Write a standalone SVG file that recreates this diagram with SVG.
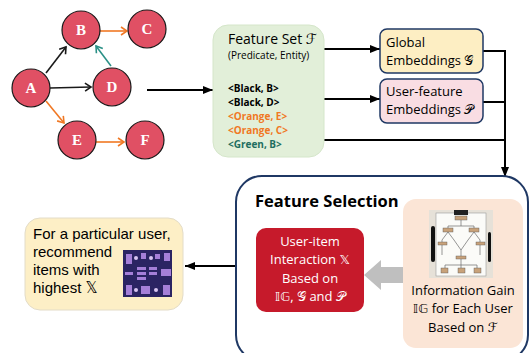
<svg xmlns="http://www.w3.org/2000/svg" width="531" height="353" viewBox="0 0 531 353">
<style>
.node{fill:#e05064;stroke:#1a1a1a;stroke-width:1.2}
.nl{font-family:"Liberation Serif",serif;font-weight:bold;font-size:15px;fill:#fff;text-anchor:middle}
.e{fill:none;stroke-width:1.6}
.flow{fill:none;stroke:#000;stroke-width:2}
.t{font-family:"Open Sans","Noto Sans",sans-serif;fill:#000}
.m{font-family:"DejaVu Sans","Noto Sans",serif}
</style>
<defs>
<marker id="ob" markerUnits="userSpaceOnUse" markerWidth="10" markerHeight="10" refX="7" refY="5" orient="auto"><path d="M1,1 L7,5 L1,9" fill="none" stroke="#1a1a1a" stroke-width="1.6"/></marker>
<marker id="oo" markerUnits="userSpaceOnUse" markerWidth="10" markerHeight="10" refX="7" refY="5" orient="auto"><path d="M1,1 L7,5 L1,9" fill="none" stroke="#f07824" stroke-width="1.6"/></marker>
<marker id="ot" markerUnits="userSpaceOnUse" markerWidth="10" markerHeight="10" refX="7" refY="5" orient="auto"><path d="M1,1 L7,5 L1,9" fill="none" stroke="#2a9086" stroke-width="1.6"/></marker>
<marker id="ar" markerUnits="userSpaceOnUse" markerWidth="10" markerHeight="8" refX="10" refY="4" orient="auto"><path d="M0,0 L10,4 L0,8 z" fill="#000"/></marker>
</defs>

<g id="connectors">
<line class="e" x1="46" y1="73" x2="66" y2="47" stroke="#1a1a1a" marker-end="url(#ob)"/>
<line class="e" x1="50" y1="88" x2="91" y2="87" stroke="#1a1a1a" marker-end="url(#ob)"/>
<line class="e" x1="46" y1="101" x2="64" y2="123" stroke="#f07824" marker-end="url(#oo)"/>
<line class="e" x1="111" y1="66" x2="96" y2="46" stroke="#2a9086" marker-end="url(#ot)"/>
<line class="e" x1="100" y1="31" x2="127" y2="31" stroke="#f07824" marker-end="url(#oo)"/>
<line class="e" x1="96" y1="142" x2="124" y2="142" stroke="#f07824" marker-end="url(#oo)"/>
<line class="flow" x1="147" y1="90" x2="213" y2="90" marker-end="url(#ar)"/>
<line class="flow" x1="324" y1="49" x2="380" y2="49" marker-end="url(#ar)"/>
<line class="flow" x1="324" y1="99" x2="380" y2="99" marker-end="url(#ar)"/>
<polyline class="flow" points="324,140 505,140"/>
<polyline class="flow" points="483,51 505,51"/>
<polyline class="flow" points="483,102 505,102"/>
<line class="flow" x1="505" y1="50" x2="505" y2="177" marker-end="url(#ar)"/>
<line class="flow" x1="236" y1="266" x2="185" y2="266" marker-end="url(#ar)"/>
</g>

<g id="node-B"><circle class="node" cx="81" cy="30" r="19"/><text class="nl" x="81" y="35">B</text></g>
<g id="node-C"><circle class="node" cx="147" cy="29" r="19"/><text class="nl" x="147" y="34">C</text></g>
<g id="node-A"><circle class="node" cx="31" cy="88" r="19"/><text class="nl" x="31" y="93">A</text></g>
<g id="node-D"><circle class="node" cx="112" cy="87" r="19"/><text class="nl" x="112" y="92">D</text></g>
<g id="node-E"><circle class="node" cx="77" cy="140" r="19"/><text class="nl" x="77" y="145">E</text></g>
<g id="node-F"><circle class="node" cx="145" cy="140" r="19"/><text class="nl" x="145" y="145">F</text></g>

<g id="feature-set">
<rect x="213" y="25" width="111" height="132" rx="15" fill="#e2efd9" stroke="#d5e6ca" stroke-width="1"/>
<text class="t" x="228" y="44" font-size="14">Feature Set <tspan class="m" font-style="italic">ℱ</tspan></text>
<text class="t" x="228" y="59" font-size="10">(Predicate, Entity)</text>
<text class="t" x="228" y="92" font-size="10" font-weight="bold">&lt;Black, B&gt;</text>
<text class="t" x="228" y="106" font-size="10" font-weight="bold">&lt;Black, D&gt;</text>
<text class="t" x="228" y="120" font-size="10" font-weight="bold" style="fill:#f07824">&lt;Orange, E&gt;</text>
<text class="t" x="228" y="134" font-size="10" font-weight="bold" style="fill:#f07824">&lt;Orange, C&gt;</text>
<text class="t" x="228" y="148" font-size="10" font-weight="bold" style="fill:#1e6e60">&lt;Green, B&gt;</text>
</g>

<g id="global-emb">
<rect x="380" y="29" width="103" height="44" rx="7" fill="#fdeec3" stroke="#1f3864" stroke-width="1.5"/>
<text class="t" x="386" y="47" font-size="13">Global</text>
<text class="t" x="386" y="65" font-size="13">Embeddings <tspan class="m">𝒢</tspan></text>
</g>

<g id="user-emb">
<rect x="380" y="79" width="103" height="44" rx="7" fill="#f9dde3" stroke="#1f3864" stroke-width="1.5"/>
<text class="t" x="386" y="96" font-size="13">User-feature</text>
<text class="t" x="386" y="114" font-size="13">Embeddings <tspan class="m">𝒫</tspan></text>
</g>

<g id="feature-selection">
<rect x="236" y="176" width="292" height="185" rx="26" fill="#fff" stroke="#1f3864" stroke-width="2"/>
<text class="t" x="255" y="207" font-size="16.5" font-weight="bold">Feature Selection</text>
<polygon points="364,275 381,260 381,267 405,267 405,283 381,283 381,290" fill="#bfbfbf"/>
</g>

<g id="user-item">
<rect x="256" y="228" width="108" height="84" rx="10" fill="#c61a2b"/>
<g class="t" font-size="13" text-anchor="middle" style="fill:#fff">
<text x="310" y="246">User-item</text>
<text x="310" y="264">Interaction <tspan class="m">𝕏</tspan></text>
<text x="310" y="283">Based on</text>
<text x="310" y="301"><tspan class="m">𝕀𝔾</tspan>, <tspan class="m">𝒢</tspan> and <tspan class="m">𝒫</tspan></text>
</g>
</g>

<g id="info-gain">
<rect x="403" y="199" width="120" height="149" rx="13" fill="#fbe5d6"/>
<rect x="429" y="210" width="64" height="68" fill="#e6e1d8"/>
<rect x="436" y="213" width="50" height="63" fill="#fbfbf8" stroke="#9a9a9a" stroke-width="0.6"/>
<rect x="454" y="210" width="14" height="5" fill="#222"/>
<g stroke="#6a6a6a" stroke-width="0.7" fill="none">
<path d="M461,218 V226 M448,226 H474 M448,226 V232 M474,226 V232 M448,232 L442,240 M448,232 L454,240 M474,232 L468,240 M474,232 L480,240 M442,240 V255 M480,240 V255 M454,240 L461,250 L468,240 M461,250 V258 M445,265 H477 M445,265 V270 M461,258 V270 M477,265 V270"/>
</g>
<g fill="#c8a27a" stroke="#555" stroke-width="0.4">
<rect x="455" y="216" width="12" height="4"/><rect x="443" y="228" width="10" height="4"/><rect x="469" y="228" width="10" height="4"/>
<rect x="438" y="242" width="9" height="3"/><rect x="476" y="242" width="9" height="3"/><rect x="456" y="256" width="10" height="3"/>
<rect x="441" y="268" width="7" height="5"/><rect x="458" y="268" width="7" height="5"/><rect x="474" y="268" width="7" height="5"/>
</g>
<rect x="431" y="226" width="4" height="36" rx="2" fill="#111"/>
<rect x="488" y="232" width="3" height="30" rx="1.5" fill="#111"/>
<g class="t" font-size="13" text-anchor="middle">
<text x="463" y="295">Information Gain</text>
<text x="463" y="313"><tspan class="m">𝕀𝔾</tspan> for Each User</text>
<text x="463" y="332">Based on <tspan class="m" font-style="italic">ℱ</tspan></text>
</g>
</g>

<g id="recommend">
<rect x="25" y="218" width="158" height="92" rx="15" fill="#fdefc6" stroke="#e3dcc8" stroke-width="1"/>
<g font-family="Liberation Sans, Arial, sans-serif" font-size="15" fill="#000">
<text x="33" y="239">For a particular user,</text>
<text x="33" y="257">recommend</text>
<text x="33" y="275">items with</text>
<text x="33" y="293">highest <tspan class="m">𝕏</tspan></text>
</g>
<rect x="123" y="250" width="49" height="47" fill="#2b2463"/>
<g fill="#a57fd8">
<rect x="126" y="254" width="6" height="10"/><rect x="141" y="253" width="5" height="6"/><rect x="155" y="254" width="5" height="5"/><rect x="164" y="253" width="6" height="8"/>
<rect x="125" y="272" width="8" height="3"/><rect x="137" y="267" width="9" height="3"/><rect x="137" y="272" width="9" height="3"/><rect x="137" y="277" width="9" height="3"/>
<rect x="149" y="267" width="8" height="3"/><rect x="149" y="272" width="8" height="3"/><rect x="161" y="269" width="10" height="7"/>
<rect x="126" y="285" width="6" height="10"/><rect x="141" y="286" width="9" height="8"/><rect x="163" y="285" width="7" height="10"/>
</g>
<g fill="#d9c6f2"><circle cx="136" cy="258" r="2"/><circle cx="151" cy="258" r="2"/><circle cx="136" cy="290" r="2"/><circle cx="156" cy="290" r="2"/></g>
</g>
</svg>
